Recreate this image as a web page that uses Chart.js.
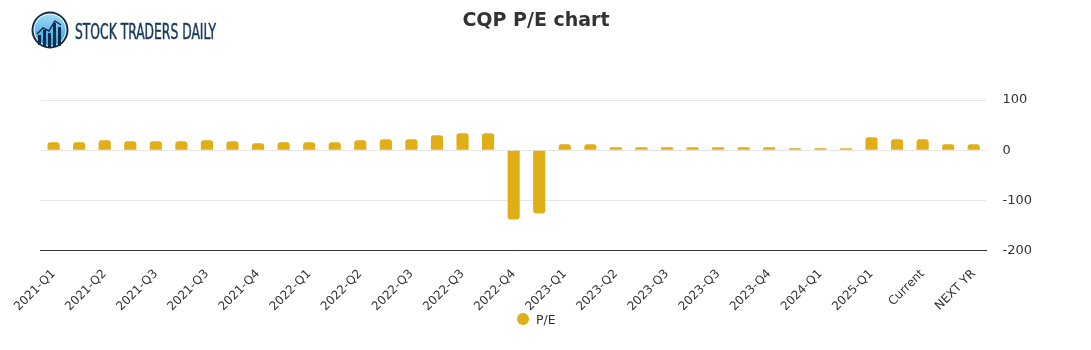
<!DOCTYPE html>
<html>
<head>
<meta charset="utf-8">
<script src="https://cdn.jsdelivr.net/npm/chart.js@4/dist/chart.umd.min.js"></script>
<style>
  html, body { margin: 0; padding: 0; background: #fff; }
  #wrap { position: relative; width: 1091px; height: 350px; }
  #logo { position: absolute; left: 30px; top: 10px; }
  #title { position: absolute; left: 336px; width: 400px; top: 7px; text-align: center;
           font: bold 19px/24px "DejaVu Sans", sans-serif; color: #333; }
  #legend { position: absolute; left: 517px; top: 312px; height: 16px;
            font: 12.5px/16px "DejaVu Sans", sans-serif; color: #333; white-space: nowrap; }
  #legend .dot { display: inline-block; width: 12px; height: 12px; border-radius: 50%;
                 vertical-align: -1px; margin-right: 7px; }
  canvas { position: absolute; left: 0; top: 0; }
</style>
</head>
<body>
<div id="wrap">
  <canvas id="c" width="1091" height="350"></canvas>
  <div id="title">CQP P/E chart</div>
  <div id="legend"></div>
  <svg id="logo" width="200" height="40" viewBox="0 0 200 40">
    <defs>
      <linearGradient id="g" x1="0" y1="0" x2="0" y2="1">
        <stop offset="0" stop-color="#9adaf8"/>
        <stop offset="1" stop-color="#3a9fe0"/>
      </linearGradient>
    </defs>
    <circle cx="20" cy="20" r="18.5" fill="#0f2d48"/>
    <circle cx="20" cy="20" r="16.5" fill="#ffffff"/>
    <circle cx="20" cy="20" r="15.5" fill="url(#g)"/>
    <rect x="8" y="25" width="3" height="10" fill="#0f2d48"/>
    <rect x="13" y="20" width="3" height="16" fill="#0f2d48"/>
    <rect x="18" y="23" width="3" height="14" fill="#0f2d48"/>
    <rect x="23" y="13" width="3" height="24" fill="#0f2d48"/>
    <rect x="28" y="17" width="3" height="19" fill="#0f2d48"/>
    <polyline points="7,24 13,18 19,21 25,11 31,15" fill="none" stroke="#0f2d48" stroke-width="1.5"/>
    <text x="45" y="29" font-family="Liberation Sans Narrow, DejaVu Sans Condensed, sans-serif" font-size="21" fill="#173b5c" stroke="#173b5c" stroke-width="0.5" textLength="141" lengthAdjust="spacingAndGlyphs">STOCK TRADERS DAILY</text>
  </svg>
</div>
<script>
const categories = [
  "2021-Q1","2021-Q1","2021-Q2","2021-Q2","2021-Q3","2021-Q3","2021-Q3","2021-Q4",
  "2021-Q4","2021-Q4","2022-Q1","2022-Q1","2022-Q2","2022-Q2","2022-Q3","2022-Q3",
  "2022-Q3","2022-Q4","2022-Q4","2022-Q4","2023-Q1","2023-Q1","2023-Q2","2023-Q2",
  "2023-Q3","2023-Q3","2023-Q3","2023-Q4","2023-Q4","2024-Q1","2024-Q1","2024-Q4",
  "2025-Q1","2025-Q1","Current","Current","NEXT YR"
];
const peValues = [
  16, 16, 20, 18, 18, 18, 20, 18, 14, 16, 16, 16, 20, 22, 22, 30, 34, 34,
  -138, -126, 12, 12, 6, 6, 6, 6, 6, 6, 6, 4, 4, 4, 26, 22, 22, 12, 12
];
const yTicks = [100, 0, -100, -200];
const seriesName = "P/E";
const barColor = "#e0ae16";

const lg = document.getElementById('legend');
lg.innerHTML = '<span class="dot" style="background:' + barColor + '"></span>' + seriesName;

new Chart(document.getElementById('c'), {
  type: 'bar',
  data: {
    labels: categories,
    datasets: [{
      label: seriesName,
      data: peValues,
      backgroundColor: barColor,
      borderColor: barColor,
      borderWidth: 0,
      borderRadius: 3,
      borderSkipped: 'start',
      barPercentage: 0.5,
      categoryPercentage: 0.95
    }]
  },
  options: {
    responsive: false,
    animation: false,
    layout: { padding: { left: 40, right: 43, top: 100, bottom: 20 } },
    plugins: {
      title: { display: false },
      legend: { display: false },
      tooltip: { enabled: false }
    },
    scales: {
      x: {
        grid: { display: false, drawTicks: false },
        border: { display: true, color: '#333', width: 1 },
        ticks: {
          autoSkip: false,
          minRotation: 45,
          maxRotation: 45,
          padding: 16,
          color: '#333',
          font: { family: 'DejaVu Sans', size: 12 },
          callback: function(v, i) { return i % 2 === 0 ? categories[i] : ''; }
        }
      },
      y: {
        position: 'right',
        min: -200,
        max: 100,
        afterBuildTicks: function(axis) { axis.ticks = yTicks.map(v => ({ value: v })); },
        grid: { color: '#e6e6e6', drawTicks: false },
        border: { display: false },
        ticks: {
          padding: 16,
          color: '#333',
          font: { family: 'DejaVu Sans', size: 13 }
        }
      }
    }
  }
});
</script>
</body>
</html>
